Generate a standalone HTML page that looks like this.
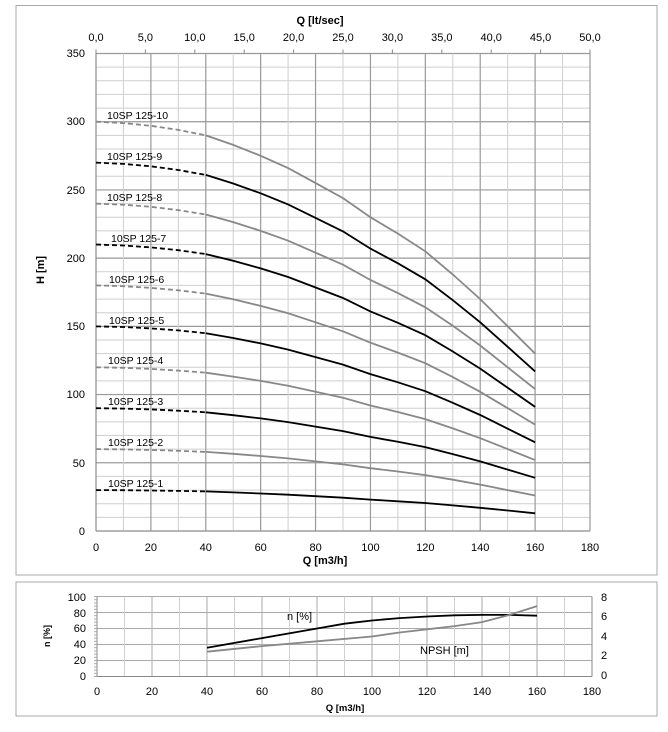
<!DOCTYPE html>
<html><head><meta charset="utf-8"><style>
html,body{margin:0;padding:0;background:#fff;}
svg{display:block;font-family:"Liberation Sans",sans-serif;}
</style></head><body>
<svg id="s" width="668" height="732" viewBox="0 0 668 732" xmlns="http://www.w3.org/2000/svg">
<rect x="16" y="5.5" width="641" height="569.5" fill="#fff" stroke="#a8a8a8" stroke-width="1"/>
<rect x="16" y="582" width="641" height="134" fill="#fff" stroke="#a8a8a8" stroke-width="1"/>
<g id="grid"></g>
<g id="curves"></g>
<g font-size="11" fill="#000">
<text x="320" y="24" text-anchor="middle" font-weight="bold">Q [lt/sec]</text>
<g id="toplab" text-anchor="middle">
<text x="96" y="41">0,0</text><text x="145.4" y="41">5,0</text><text x="194.8" y="41">10,0</text><text x="244.2" y="41">15,0</text><text x="293.6" y="41">20,0</text><text x="343" y="41">25,0</text><text x="392.4" y="41">30,0</text><text x="441.8" y="41">35,0</text><text x="491.2" y="41">40,0</text><text x="540.6" y="41">45,0</text><text x="590" y="41">50,0</text>
</g>
<g text-anchor="end">
<text x="85" y="57">350</text><text x="85" y="125">300</text><text x="85" y="194">250</text><text x="85" y="262">200</text><text x="85" y="330">150</text><text x="85" y="398">100</text><text x="85" y="467">50</text><text x="85" y="535">0</text>
</g>
<g text-anchor="middle">
<text x="96" y="551">0</text><text x="150.9" y="551">20</text><text x="205.8" y="551">40</text><text x="260.7" y="551">60</text><text x="315.6" y="551">80</text><text x="370.4" y="551">100</text><text x="425.3" y="551">120</text><text x="480.2" y="551">140</text><text x="535.1" y="551">160</text><text x="590" y="551">180</text>
</g>
<text x="325" y="564" text-anchor="middle" font-weight="bold">Q [m3/h]</text>
<text transform="translate(44,270) rotate(-90)" text-anchor="middle" font-weight="bold">H [m]</text>
<g font-size="10.5">
<text x="107" y="119">10SP 125-10</text>
<text x="107" y="160">10SP 125-9</text>
<text x="107" y="201">10SP 125-8</text>
<text x="111" y="242">10SP 125-7</text>
<text x="109" y="283">10SP 125-6</text>
<text x="109" y="324">10SP 125-5</text>
<text x="108" y="364">10SP 125-4</text>
<text x="108" y="405">10SP 125-3</text>
<text x="108" y="446">10SP 125-2</text>
<text x="108" y="487">10SP 125-1</text>
</g>
<g text-anchor="end">
<text x="86" y="601">100</text><text x="86" y="617">80</text><text x="86" y="632">60</text><text x="86" y="648">40</text><text x="86" y="664">20</text><text x="86" y="680">0</text>
</g>
<g text-anchor="start">
<text x="601" y="601">8</text><text x="601" y="620">6</text><text x="601" y="640">4</text><text x="601" y="659">2</text><text x="601" y="679">0</text>
</g>
<g text-anchor="middle">
<text x="97" y="695">0</text><text x="152" y="695">20</text><text x="207" y="695">40</text><text x="262" y="695">60</text><text x="317" y="695">80</text><text x="372" y="695">100</text><text x="427" y="695">120</text><text x="482" y="695">140</text><text x="537" y="695">160</text><text x="592" y="695">180</text>
</g>
<text x="345" y="711" text-anchor="middle" font-weight="bold" font-size="9.5">Q [m3/h]</text>
<text transform="translate(50,636) rotate(-90)" text-anchor="middle" font-weight="bold" font-size="9">n [%]</text>
<text x="287" y="620">n [%]</text>
<text x="420" y="654">NPSH [m]</text>
</g>
</svg>
<script>
var NS="http://www.w3.org/2000/svg";
function el(p,t,a){var e=document.createElementNS(NS,t);for(var k in a)e.setAttribute(k,a[k]);p.appendChild(e);return e;}
var g=document.getElementById('grid'),c=document.getElementById('curves');
// main chart
var X0=96,X1=590,Y0=531,Y1=53.5;
function mx(q){return X0+(X1-X0)*q/180;}function my(h){return Y0-(Y0-Y1)*h/350;}
for(var h=0;h<=350;h+=10){var maj=h%50==0;el(g,'line',{x1:X0,x2:X1,y1:my(h),y2:my(h),stroke:maj?'#9a9a9a':'#cfcfcf','stroke-width':maj?1.2:1});}
for(var q=0;q<=180;q+=10){var maj=q%20==0;el(g,'line',{x1:mx(q),x2:mx(q),y1:Y1,y2:Y0,stroke:maj?'#9a9a9a':'#cfcfcf','stroke-width':maj?1.2:1});}
el(g,'line',{x1:X0,x2:X1,y1:Y0,y2:Y0,stroke:'#888'});el(g,'line',{x1:X0,x2:X0,y1:Y1,y2:Y0,stroke:'#888'});
for(var l=0;l<=50;l+=5){var x=X0+(X1-X0)*l/50;el(g,'line',{x1:x,x2:x,y1:Y1-4,y2:Y1,stroke:'#888'});}
var f=[[0,30],[10,29.9],[20,29.7],[30,29.4],[40,29],[50,28.3],[60,27.5],[70,26.6],[80,25.5],[90,24.4],[100,23],[110,21.8],[120,20.5],[130,18.8],[140,17],[150,15],[160,13]];
for(var n=1;n<=10;n++){var col=n%2?'#000':'#888';var d1='',d2='';
f.forEach(function(p){var s=mx(p[0]).toFixed(1)+','+my(p[1]*n).toFixed(1);if(p[0]<=40)d1+=(d1?'L':'M')+s;if(p[0]>=40)d2+=(d2?'L':'M')+s;});
el(c,'path',{d:d1,fill:'none',stroke:col,'stroke-width':1.8,'stroke-dasharray':'5,3'});
el(c,'path',{d:d2,fill:'none',stroke:col,'stroke-width':1.8});}
// bottom chart
var B0=97,B1=592,BY0=676.5,BY1=596.5;
function bx(q){return B0+(B1-B0)*q/180;}function by(v){return BY0-(BY0-BY1)*v/100;}
for(var v=0;v<=100;v+=20)el(g,'line',{x1:B0,x2:B1,y1:by(v),y2:by(v),stroke:'#aaa'});
for(var q=0;q<=180;q+=10)el(g,'line',{x1:bx(q),x2:bx(q),y1:BY1,y2:BY0,stroke:q%20==0?'#aaa':'#d0d0d0'});
el(g,'line',{x1:B0,x2:B1,y1:BY0,y2:BY0,stroke:'#888'});el(g,'line',{x1:B0,x2:B0,y1:BY1,y2:BY0,stroke:'#888'});el(g,'line',{x1:B1,x2:B1,y1:BY1,y2:BY0,stroke:'#888'});
for(var v=0;v<=100;v+=4)el(g,'line',{x1:B0-3,x2:B0,y1:by(v),y2:by(v),stroke:'#aaa'});
function pl(pts,col){var d='';pts.forEach(function(p){d+=(d?'L':'M')+bx(p[0]).toFixed(1)+','+by(p[1]).toFixed(1);});el(c,'path',{d:d,fill:'none',stroke:col,'stroke-width':1.8});}
pl([[40,36],[60,48],[80,60],[90,66],[100,70],[110,73],[120,75],[130,76.5],[140,77],[150,77],[160,76]],'#000');
pl([[40,31],[60,38],[80,44],[100,50],[110,55],[120,59],[130,63],[140,68],[150,77],[160,88]],'#888');
</script>
</body></html>
